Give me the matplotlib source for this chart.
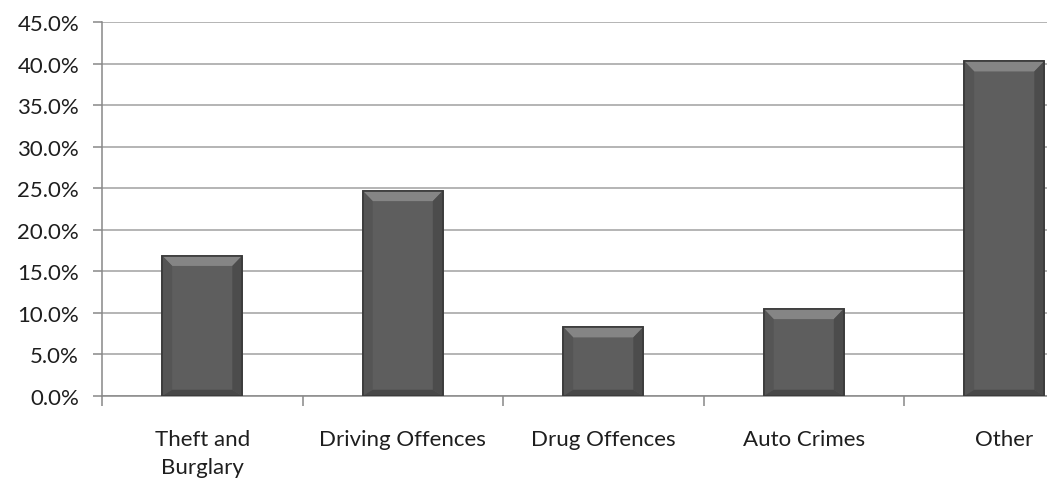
import matplotlib.pyplot as plt
from matplotlib.patches import Polygon
from matplotlib.ticker import FuncFormatter, FixedLocator
import numpy as np

# categories and shares (%)
categories = ["Theft and\nBurglary", "Driving Offences", "Drug Offences", "Auto Crimes", "Other"]
shares = [16.9, 24.7, 8.3, 10.5, 40.3]

plt.rcParams["font.family"] = ["Lato", "DejaVu Sans"]

fig = plt.figure(figsize=(10.47, 4.85), dpi=100)
# the right end of the plot is cut off in the original, so the axes run past the figure edge
ax = fig.add_axes([102 / 1047, 1 - 397 / 485, 1002.5 / 1047, 374 / 485])

x = np.arange(len(categories))
width = 0.40
ax.bar(x, shares, width=width, color="#5e5e5e", edgecolor="#3a3a3a",
       linewidth=1.2, zorder=3)

# bevel look on top and sides of each bar
bx = 0.05
by = 1.25
for xi, h in zip(x, shares):
    l, r = xi - width / 2, xi + width / 2
    top = Polygon([[l, h], [r, h], [r - bx, h - by], [l + bx, h - by]],
                  closed=True, facecolor="#858585", edgecolor="none", zorder=4)
    left = Polygon([[l, 0], [l, h], [l + bx, h - by], [l + bx, by * 0.6]],
                   closed=True, facecolor="#555555", edgecolor="none", zorder=4)
    right = Polygon([[r, 0], [r, h], [r - bx, h - by], [r - bx, by * 0.6]],
                    closed=True, facecolor="#4c4c4c", edgecolor="none", zorder=4)
    bottom = Polygon([[l, 0], [r, 0], [r - bx, by * 0.6], [l + bx, by * 0.6]],
                     closed=True, facecolor="#484848", edgecolor="none", zorder=4)
    for p in (top, left, right, bottom):
        ax.add_patch(p)
    # outline again on top of the bevels
    ax.add_patch(Polygon([[l, 0], [l, h], [r, h], [r, 0]], closed=True,
                         facecolor="none", edgecolor="#3a3a3a", linewidth=1.2, zorder=5))

ax.set_xlim(-0.5, len(categories) - 0.5)
ax.set_ylim(0, 45)
ax.set_yticks(np.arange(0, 46, 5))
ax.yaxis.set_major_formatter(FuncFormatter(lambda v, p: f"{v:.1f}%"))
ax.grid(axis="y", color="#a0a0a0", linewidth=1.1, zorder=0)

# ticks between categories, labels at the centres
ax.xaxis.set_major_locator(FixedLocator(np.arange(-0.5, len(categories), 1.0)))
ax.xaxis.set_major_formatter(FuncFormatter(lambda v, p: ""))
ax.xaxis.set_minor_locator(FixedLocator(x))
ax.set_xticklabels(categories, minor=True)
ax.tick_params(axis="x", which="major", length=7, color="#888888", width=1.1)
ax.tick_params(axis="x", which="minor", length=0, pad=24, labelsize=16, labelcolor="#1e1e1e")
ax.tick_params(axis="y", length=6.5, color="#888888", width=1.1, pad=10,
               labelsize=16, labelcolor="#1e1e1e")
for t in ax.get_xticklabels(minor=True):
    t.set_linespacing(1.5)

for s in ["top", "right"]:
    ax.spines[s].set_visible(False)
for s in ["left", "bottom"]:
    ax.spines[s].set_color("#888888")
    ax.spines[s].set_linewidth(1.1)

fig.savefig("out.png", dpi=100)
